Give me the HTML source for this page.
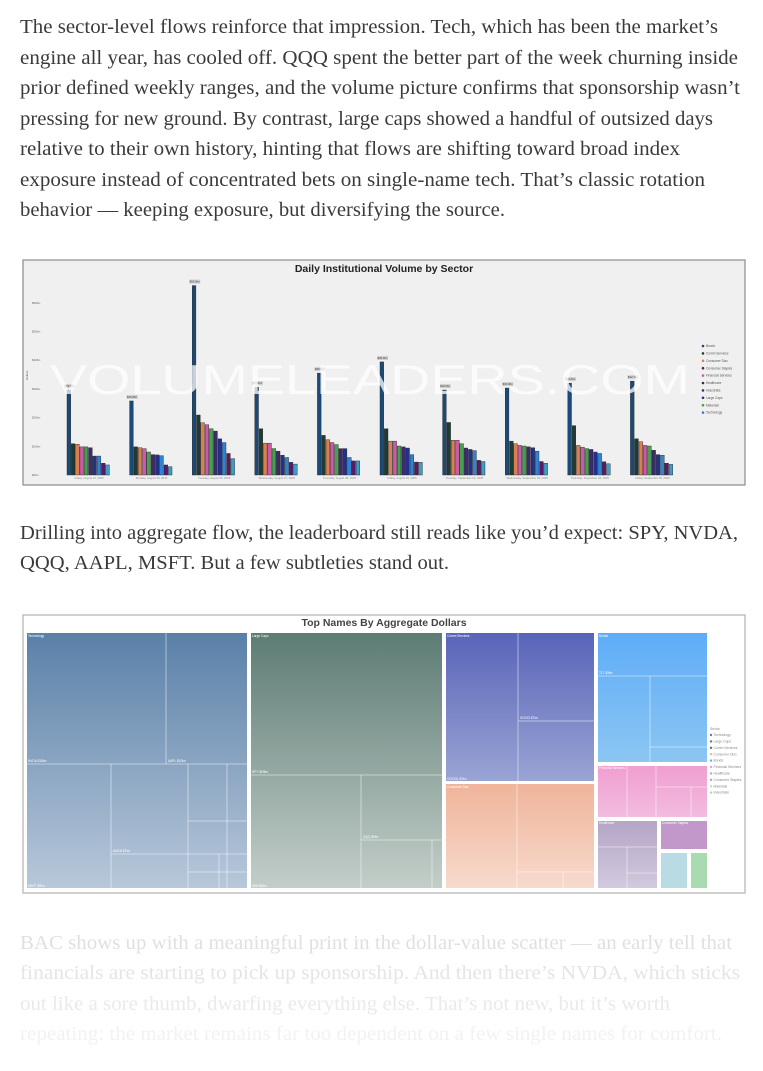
<!DOCTYPE html>
<html><head><meta charset="utf-8"><style>
html,body{margin:0;padding:0;background:#fff;width:763px;height:1071px;overflow:hidden}
svg{display:block}
.p{font-family:"Liberation Serif",serif;font-size:20px}
.s{font-family:"Liberation Sans",sans-serif}
</style></head><body>
<svg width="763" height="1071" viewBox="0 0 763 1071">
<g class="p" fill="#3a3a3a">
<text x="20" y="33" textLength="698" lengthAdjust="spacingAndGlyphs">The sector-level flows reinforce that impression. Tech, which has been the market’s</text>
<text x="20" y="64" textLength="718" lengthAdjust="spacingAndGlyphs">engine all year, has cooled off. QQQ spent the better part of the week churning inside</text>
<text x="20" y="94" textLength="720" lengthAdjust="spacingAndGlyphs">prior defined weekly ranges, and the volume picture confirms that sponsorship wasn’t</text>
<text x="20" y="125" textLength="693" lengthAdjust="spacingAndGlyphs">pressing for new ground. By contrast, large caps showed a handful of outsized days</text>
<text x="20" y="155" textLength="660" lengthAdjust="spacingAndGlyphs">relative to their own history, hinting that flows are shifting toward broad index</text>
<text x="20" y="186" textLength="685" lengthAdjust="spacingAndGlyphs">exposure instead of concentrated bets on single-name tech. That’s classic rotation</text>
<text x="20" y="216" textLength="485" lengthAdjust="spacingAndGlyphs">behavior — keeping exposure, but diversifying the source.</text>
</g>
<g class="p" fill="#3a3a3a">
<text x="20" y="539" textLength="718" lengthAdjust="spacingAndGlyphs">Drilling into aggregate flow, the leaderboard still reads like you’d expect: SPY, NVDA,</text>
<text x="20" y="569" textLength="429" lengthAdjust="spacingAndGlyphs">QQQ, AAPL, MSFT. But a few subtleties stand out.</text>
</g>
<g class="p">
<text x="20" y="949" fill="#e0e0e0" textLength="712" lengthAdjust="spacingAndGlyphs">BAC shows up with a meaningful print in the dollar-value scatter — an early tell that</text>
<text x="20" y="979" fill="#e5e5e5" textLength="720" lengthAdjust="spacingAndGlyphs">financials are starting to pick up sponsorship. And then there’s NVDA, which sticks</text>
<text x="20" y="1010" fill="#eaeaea" textLength="650" lengthAdjust="spacingAndGlyphs">out like a sore thumb, dwarfing everything else. That’s not new, but it’s worth</text>
<text x="20" y="1040" fill="#f2f2f2" textLength="702" lengthAdjust="spacingAndGlyphs">repeating: the market remains far too dependent on a few single names for comfort.</text>
</g>

<g id="bar-chart">
<rect x="23" y="260" width="722" height="225" fill="#f0f0f0" stroke="#8a8a8a" stroke-width="1.2"/>
<text x="384" y="272" text-anchor="middle" class="s" font-size="10.5" font-weight="bold" fill="#222">Daily Institutional Volume by Sector</text>
<g id="yaxis"></g><g id="bars"></g>
<text x="370" y="394" text-anchor="middle" class="s" font-size="42" fill="#fff" opacity="0.75" textLength="640" lengthAdjust="spacingAndGlyphs">VOLUMELEADERS.COM</text>
<g id="legend"></g>
</g>

<g id="treemap">
<defs>
<linearGradient id="gt" x1="0" y1="0" x2="0" y2="1"><stop offset="0" stop-color="#5a80a8"/><stop offset="1" stop-color="#b8c8da"/></linearGradient>
<linearGradient id="gl" x1="0" y1="0" x2="0" y2="1"><stop offset="0" stop-color="#5c7c74"/><stop offset="1" stop-color="#c4cec9"/></linearGradient>
<linearGradient id="gc" x1="0" y1="0" x2="0" y2="1"><stop offset="0" stop-color="#5864b8"/><stop offset="1" stop-color="#9aa4d4"/></linearGradient>
<linearGradient id="gd" x1="0" y1="0" x2="0" y2="1"><stop offset="0" stop-color="#f0b49a"/><stop offset="1" stop-color="#f7dacd"/></linearGradient>
<linearGradient id="gb" x1="0" y1="0" x2="0" y2="1"><stop offset="0" stop-color="#5eacf8"/><stop offset="1" stop-color="#8cc6f2"/></linearGradient>
<linearGradient id="gf" x1="0" y1="0" x2="0" y2="1"><stop offset="0" stop-color="#f09ed0"/><stop offset="1" stop-color="#f2bce0"/></linearGradient>
<linearGradient id="gh" x1="0" y1="0" x2="0" y2="1"><stop offset="0" stop-color="#b4a4c6"/><stop offset="1" stop-color="#d2cade"/></linearGradient>
</defs>
<rect x="23" y="615" width="722" height="278" fill="#fff" stroke="#b0b0b0" stroke-width="1.2"/>
<text x="384" y="626" text-anchor="middle" class="s" font-size="10.5" font-weight="bold" fill="#444">Top Names By Aggregate Dollars</text>
<g stroke="#fff" stroke-width="0.8" stroke-opacity="0.6" fill="none">
<rect x="26" y="632" width="222" height="257" fill="url(#gt)" stroke-width="2" stroke-opacity="1"/>
<line x1="166" y1="632" x2="166" y2="764"/><line x1="26" y1="764" x2="248" y2="764"/>
<line x1="111" y1="764" x2="111" y2="889"/><line x1="188" y1="764" x2="188" y2="889"/><line x1="111" y1="854" x2="248" y2="854"/>
<line x1="227" y1="764" x2="227" y2="889"/><line x1="188" y1="821" x2="248" y2="821"/><line x1="188" y1="872" x2="248" y2="872"/><line x1="219" y1="854" x2="219" y2="889"/>
<rect x="250" y="632" width="193" height="257" fill="url(#gl)" stroke-width="2" stroke-opacity="1"/>
<line x1="250" y1="775" x2="443" y2="775"/><line x1="361" y1="775" x2="361" y2="889"/><line x1="361" y1="840" x2="443" y2="840"/><line x1="432" y1="840" x2="432" y2="889"/>
<rect x="445" y="632" width="150" height="150" fill="url(#gc)" stroke-width="2" stroke-opacity="1"/>
<line x1="518" y1="632" x2="518" y2="782"/><line x1="518" y1="721" x2="595" y2="721"/>
<rect x="445" y="783" width="150" height="106" fill="url(#gd)" stroke-width="2" stroke-opacity="1"/>
<line x1="517" y1="783" x2="517" y2="889"/><line x1="517" y1="872" x2="595" y2="872"/><line x1="563" y1="872" x2="563" y2="889"/>
<rect x="597" y="632" width="111" height="131" fill="url(#gb)" stroke-width="2" stroke-opacity="1"/>
<line x1="597" y1="676" x2="708" y2="676"/><line x1="650" y1="676" x2="650" y2="763"/><line x1="650" y1="747" x2="708" y2="747"/>
<rect x="597" y="765" width="111" height="53" fill="url(#gf)" stroke-width="2" stroke-opacity="1"/>
<line x1="627" y1="765" x2="627" y2="818"/><line x1="656" y1="765" x2="656" y2="818"/><line x1="656" y1="787" x2="708" y2="787"/><line x1="691" y1="787" x2="691" y2="818"/>
<rect x="597" y="820" width="61" height="69" fill="url(#gh)" stroke-width="2" stroke-opacity="1"/>
<line x1="597" y1="847" x2="658" y2="847"/><line x1="627" y1="847" x2="627" y2="889"/><line x1="627" y1="873" x2="658" y2="873"/>
<rect x="660" y="820" width="48" height="30" fill="#c198c9" stroke-width="2" stroke-opacity="1"/>
<rect x="660" y="852" width="28" height="37" fill="#b9dce4" stroke-width="2" stroke-opacity="1"/>
<rect x="690" y="852" width="18" height="37" fill="#a8dcb0" stroke-width="2" stroke-opacity="1"/>
</g>
<g class="s" font-size="3.2" fill="#fff">
<text x="28" y="637">Technology</text><text x="28" y="762">NVDA $18bn</text><text x="168" y="762">AAPL $10bn</text><text x="28" y="887">MSFT $9bn</text><text x="113" y="852">AMZN $7bn</text>
<text x="252" y="637">Large Caps</text><text x="252" y="773">SPY $29bn</text><text x="363" y="838">QQQ $9bn</text><text x="252" y="887">IWM $8bn</text>
<text x="447" y="637">Comm Services</text><text x="520" y="719">GOOG $7bn</text><text x="447" y="780">GOOGL $7bn</text><text x="447" y="788">Consumer Disc</text>
<text x="599" y="637">Bonds</text><text x="599" y="674">TLT $3bn</text><text x="599" y="769">Financial Services</text><text x="599" y="824">Healthcare</text><text x="662" y="824">Consumer Staples</text>
</g>
<g id="tm-legend" class="s" font-size="3.4" fill="#888"></g>
</g>

<script>
const days=["Friday, August 22, 2025","Monday, August 25, 2025","Tuesday, August 26, 2025","Wednesday, August 27, 2025","Thursday, August 28, 2025","Friday, August 29, 2025","Tuesday, September 02, 2025","Wednesday, September 03, 2025","Thursday, September 04, 2025","Friday, September 05, 2025"];
const sectors=["Bonds","Comm Services","Consumer Disc","Consumer Staples","Financial Services","Healthcare","Industrials","Large Caps","Materials","Technology"];
const largeCaps=[29.6,25.8,66,30.6,35.5,39.4,29.6,30.3,32,32.7];
const others=[
[10.9,10.7,9.8,9.8,9.5,6.6,6.6,4.1,3.5],
[9.8,9.5,9.2,8.0,7.1,7.0,6.7,3.5,2.9],
[20.9,18.2,17.5,16.1,15.3,12.6,11.3,7.5,5.7],
[16.1,11.1,11.1,9.2,8.3,6.9,6.1,4.4,3.8],
[13.8,12.3,11.3,10.6,9.2,9.2,6.1,4.9,4.9],
[16.1,11.8,11.8,10.1,9.8,9.4,7.1,4.5,4.4],
[18.3,12.1,12.1,10.9,9.4,8.9,8.5,5.1,4.7],
[11.8,10.9,10.3,10.1,9.8,9.5,8.3,4.7,4.1],
[17.2,10.3,9.7,9.2,8.9,8.0,7.5,4.6,3.9],
[12.6,11.6,10.3,10.1,8.6,7.1,6.9,4.1,3.7]];
const yTicks=[0,10,20,30,40,50,60];
const tmLegend=["Technology","Large Caps","Comm Services","Consumer Disc","Bonds","Financial Services","Healthcare","Consumer Staples","Materials","Industrials"];
const NS="http://www.w3.org/2000/svg";
const colors=["#1b4a78","#1e3b35","#d97f50","#c95ba9","#46a050","#3d2c6a","#24318a","#2f84d2","#5a1a68","#3f9cc4"];
const legendColors=["#1b4a78","#1e3b35","#d97f50","#5a1a68","#c95ba9","#1e3b35","#3d2c6a","#24318a","#46a050","#2f84d2"];
const tmColors=["#5a80a8","#5c7c74","#5864b8","#f0b49a","#5eacf8","#f09ed0","#b4a4c6","#c198c9","#b9dce4","#a8dcb0"];
const y0=475,pxPer=2.87;
const yS=v=>y0-v*pxPer;
const gx=i=>67+i*62.6;
const bw=4.3;
function mk(tag,attrs,parent){const e=document.createElementNS(NS,tag);for(const k in attrs)e.setAttribute(k,attrs[k]);parent.appendChild(e);return e;}
const ya=document.getElementById('yaxis');
yTicks.forEach(t=>{const e=mk('text',{x:32,y:yS(t)+1,'font-size':3,'font-family':'Liberation Sans',fill:'#666'},ya);e.textContent='$'+t+'bn';

});
const yt=mk('text',{x:28,y:380,'font-size':3,'font-family':'Liberation Sans',fill:'#555',transform:'rotate(-90 28 380)'},ya);yt.textContent='Dollars';


const bg=document.getElementById('bars');
days.forEach((d,i)=>{
 const vals=[largeCaps[i]].concat(others[i]);
 vals.forEach((v,j)=>{
  const r=mk('rect',{x:gx(i)+j*bw,y:yS(v),width:bw-0.6,height:v*pxPer,fill:colors[j],stroke:'#222','stroke-width':0.4},bg);
  
  
 });
 const lb=mk('rect',{x:gx(i)-3,y:yS(largeCaps[i])-6,width:11,height:4,fill:'#d0d0d0'},bg);
 
 
 const lt=mk('text',{x:gx(i)+2.5,y:yS(largeCaps[i])-3,'font-size':2.8,'text-anchor':'middle','font-family':'Liberation Sans',fill:'#444'},bg);
 lt.textContent='$'+largeCaps[i].toFixed(1)+'bn';
 
 
 const dl=mk('text',{x:gx(i)+22,y:479,'font-size':2.8,'text-anchor':'middle','font-family':'Liberation Sans',fill:'#888'},bg);
 dl.textContent=d;
 
 
});
const lg=document.getElementById('legend');
sectors.forEach((s,k)=>{
 const y=346+k*7.4;
 const c=mk('circle',{cx:703,cy:y,r:1.3,fill:legendColors[k]},lg);
 
 
 const t=mk('text',{x:706,y:y+1.1,'font-size':3.2,'font-family':'Liberation Sans',fill:'#555'},lg);
 t.textContent=s;
 
 
});
const tl=document.getElementById('tm-legend');
const th=mk('text',{x:710,y:730},tl);th.textContent='Sector';


tmLegend.forEach((s,k)=>{
 const y=735+k*6.4;
 const c=mk('circle',{cx:711,cy:y,r:1.2,fill:tmColors[k]},tl);
 
 
 const t=mk('text',{x:713.5,y:y+1.1},tl);t.textContent=s;
 
 
});
</script>
</svg>
</body></html>
